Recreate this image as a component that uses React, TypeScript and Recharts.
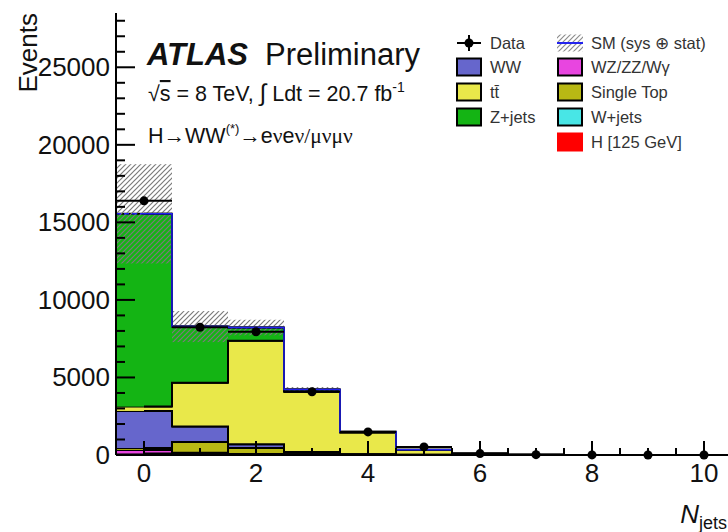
import { ComposedChart, Bar, Line, Scatter, ErrorBar, XAxis, YAxis } from 'recharts'

// Jet multiplicity bins
const NJETS = [0, 1, 2, 3, 4, 5, 6, 7, 8, 9, 10]

// Expected events per bin for each background / signal process
const H125 = [60, 30, 15, 6, 2, 1, 0, 0, 0, 0, 0]
const WJETS = [40, 20, 10, 4, 1, 0, 0, 0, 0, 0, 0]
const WZ_ZZ_WG = [230, 90, 40, 20, 8, 3, 1, 0, 0, 0, 0]
const SINGLE_TOP = [120, 700, 380, 110, 30, 8, 2, 0, 0, 0, 0]
const WW = [2390, 990, 245, 60, 15, 4, 1, 0, 0, 0, 0]
const TTBAR = [280, 2830, 6680, 3880, 1400, 300, 70, 15, 4, 1, 0]
const ZJETS = [12430, 3620, 850, 150, 40, 15, 3, 0, 0, 0, 0]

// Total SM uncertainty (sys + stat)
const SM_UNC = [3200, 1000, 500, 150, 50, 20, 5, 1, 0, 0, 0]

// Observed events
const DATA = [16390, 8240, 7950, 4080, 1490, 520, 90, 20, 5, 2, 1]

const X_LABELS = [0, 2, 4, 6, 8, 10]
const X_TICKS = [0, 0.5, 1, 1.5, 2, 2.5, 3, 3.5, 4, 4.5, 5, 5.5, 6, 6.5, 7, 7.5, 8, 8.5, 9, 9.5, 10]
const Y_LABELS = [0, 5000, 10000, 15000, 20000, 25000]
const Y_TICKS = [
  0, 1000, 2000, 3000, 4000, 5000, 6000, 7000, 8000, 9000, 10000, 11000, 12000, 13000, 14000,
  15000, 16000, 17000, 18000, 19000, 20000, 21000, 22000, 23000, 24000, 25000, 26000, 27000, 28000,
]

// bottom of the stack first
const STACK = [
  { key: 'h125', colour: '#ff0000', values: H125 },
  { key: 'wjets', colour: '#48e6e6', values: WJETS },
  { key: 'wzzz', colour: '#e845e0', values: WZ_ZZ_WG },
  { key: 'stop', colour: '#b8b814', values: SINGLE_TOP },
  { key: 'ww', colour: '#6666cc', values: WW },
  { key: 'ttbar', colour: '#e9e84a', values: TTBAR },
  { key: 'zjets', colour: '#14b414', values: ZJETS },
]

const rows = NJETS.map((nj, i) => {
  const row: Record<string, any> = { nj, data: DATA[i], xerr: 0.5 }
  let cum = 0
  for (const s of STACK) {
    row[s.key] = s.values[i]
    cum += s.values[i]
    row[`top_${s.key}`] = cum
  }
  row.total = cum
  row.band = [cum - SM_UNC[i], cum + SM_UNC[i]]
  return row
})

const FONT = '"Liberation Sans", Arial, sans-serif'
const INK = '#111'
const SM_BLUE = '#2222ee'

// filled bin with a black line along its top edge
function StackShape(props: any) {
  const { x, y, width, height, fill } = props
  if (!height || height < 0) return null
  return (
    <g>
      <rect x={x} y={y} width={width} height={height} fill={fill} />
      <line x1={x} x2={x + width} y1={y} y2={y} stroke="#000" strokeWidth={2} />
    </g>
  )
}

// hatched uncertainty band with the SM total through its middle
function BandShape(props: any) {
  const { x, y, width, height } = props
  if (height == null) return null
  return (
    <g>
      <rect x={x} y={y} width={width} height={Math.max(height, 0)} fill="url(#smHatch)" />
      <line x1={x} x2={x + width} y1={y + height / 2} y2={y + height / 2} stroke={SM_BLUE} strokeWidth={1.5} strokeDasharray="5 3" />
    </g>
  )
}

function DataDot(props: any) {
  const { cx, cy } = props
  return <circle cx={cx} cy={cy} r={4.5} fill="#000" />
}

function BottomTick({ x, y, payload }: any) {
  const v = payload.value
  const major = X_LABELS.includes(v)
  return (
    <g>
      <line x1={x} x2={x} y1={y} y2={y - (major ? 14 : 7)} stroke="#000" strokeWidth={2} />
      {major && (
        <text x={x} y={y + 27} textAnchor="middle" fontFamily={FONT} fontSize={26} fill={INK}>
          {v}
        </text>
      )}
    </g>
  )
}

function TopTick({ x, y, payload }: any) {
  const major = X_LABELS.includes(payload.value)
  return <line x1={x} x2={x} y1={y} y2={y + (major ? 15 : 9)} stroke="#000" strokeWidth={2} />
}

function LeftTick({ x, y, payload }: any) {
  const v = payload.value
  const major = Y_LABELS.includes(v)
  return (
    <g>
      <line x1={x} x2={x + (major ? 19 : 9)} y1={y} y2={y} stroke="#000" strokeWidth={2} />
      {major && (
        <text x={x - 6} y={y + 9} textAnchor="end" fontFamily={FONT} fontSize={26} fill={INK}>
          {v}
        </text>
      )}
    </g>
  )
}

function RightTick({ x, y, payload }: any) {
  const major = Y_LABELS.includes(payload.value)
  return <line x1={x} x2={x - (major ? 20 : 10)} y1={y} y2={y} stroke="#000" strokeWidth={2} />
}

const LEGEND_LEFT = [
  { label: 'WW', colour: '#6666cc' },
  { label: 'tt\u0304', colour: '#e9e84a' },
  { label: 'Z+jets', colour: '#14b414' },
]
const LEGEND_RIGHT = [
  { label: 'WZ/ZZ/W\u03b3', colour: '#e845e0' },
  { label: 'Single Top', colour: '#b8b814' },
  { label: 'W+jets', colour: '#48e6e6' },
]

function Annotations() {
  const rowY = [43, 67, 92, 117, 142]
  const legendText = { fontFamily: FONT, fontSize: 16.5, fill: '#333' }
  return (
    <svg width={728} height={532} style={{ position: 'absolute', left: 0, top: 0, pointerEvents: 'none' }}>
      <defs>
        <pattern id="legHatch" width="5" height="5" patternUnits="userSpaceOnUse">
          <path d="M-1,1 l2,-2 M0,5 l5,-5 M4,6 l2,-2" stroke="#8c8c8c" strokeWidth={1.2} />
        </pattern>
      </defs>

      <text transform="translate(37,13) rotate(-90)" textAnchor="end" fontFamily={FONT} fontSize={26} fill={INK}>
        Events
      </text>
      <text x={727} y={523} textAnchor="end" fontFamily={FONT} fill={INK}>
        <tspan fontSize={26} fontStyle="italic">N</tspan>
        <tspan fontSize={18} dy={6}>jets</tspan>
      </text>

      <text x={147} y={65} fontFamily={FONT} fontSize={31} fill={INK}>
        <tspan fontWeight="bold" fontStyle="italic">ATLAS</tspan>
        <tspan dx={17}>Preliminary</tspan>
      </text>
      <text x={148} y={101} fontFamily={FONT} fontSize={21.5} fill={INK}>
        <tspan>√</tspan>
        <tspan textDecoration="overline">s</tspan>
        <tspan> = 8 TeV, </tspan>
        <tspan fontSize={24}>∫</tspan>
        <tspan> Ldt = 20.7 fb</tspan>
        <tspan fontSize={14} dy={-9}>-1</tspan>
      </text>
      <text x={148} y={143} fontFamily={FONT} fontSize={21.5} fill={INK}>
        <tspan>H→WW</tspan>
        <tspan fontSize={13} dy={-10}>(*)</tspan>
        <tspan dy={10}>→e</tspan>
        <tspan fontFamily='"Liberation Serif", serif'>ν</tspan>
        <tspan>e</tspan>
        <tspan fontFamily='"Liberation Serif", serif'>ν/μνμν</tspan>
      </text>

      {/* data marker */}
      <line x1={457} x2={481} y1={rowY[0]} y2={rowY[0]} stroke="#000" strokeWidth={2} />
      <line x1={469} x2={469} y1={rowY[0] - 8} y2={rowY[0] + 8} stroke="#000" strokeWidth={2} />
      <circle cx={469} cy={rowY[0]} r={4.5} fill="#000" />
      <text x={490} y={rowY[0] + 6} {...legendText}>Data</text>

      {LEGEND_LEFT.map((e, i) => (
        <g key={e.label}>
          <rect x={457} y={rowY[i + 1] - 8.5} width={24} height={17} fill={e.colour} stroke="#000" strokeWidth={2} />
          <text x={490} y={rowY[i + 1] + 6} {...legendText}>{e.label}</text>
        </g>
      ))}

      {/* SM total with uncertainty */}
      <rect x={557} y={rowY[0] - 8.5} width={26} height={17} fill="url(#legHatch)" />
      <line x1={557} x2={583} y1={rowY[0]} y2={rowY[0]} stroke={SM_BLUE} strokeWidth={2} />
      <text x={591} y={rowY[0] + 6} {...legendText}>SM (sys ⊕ stat)</text>

      {LEGEND_RIGHT.map((e, i) => (
        <g key={e.label}>
          <rect x={558} y={rowY[i + 1] - 8.5} width={24} height={17} fill={e.colour} stroke="#000" strokeWidth={2} />
          <text x={591} y={rowY[i + 1] + 6} {...legendText}>{e.label}</text>
        </g>
      ))}
      <rect x={557} y={rowY[4] - 9.5} width={26} height={19} fill="#ff0000" />
      <text x={591} y={rowY[4] + 6} {...legendText}>H [125 GeV]</text>
    </svg>
  )
}

export default function App() {
  return (
    <div style={{ position: 'fixed', left: 0, top: 0, width: 728, height: 532, overflow: 'hidden', background: '#fff' }}>
      <ComposedChart
        width={760}
        height={532}
        data={rows}
        margin={{ top: 13, right: 0, bottom: 0, left: 0 }}
        barCategoryGap={0}
        barGap={0}
      >
        <defs>
          <pattern id="smHatch" width="5" height="5" patternUnits="userSpaceOnUse">
            <path d="M-1,1 l2,-2 M0,5 l5,-5 M4,6 l2,-2" stroke="#7a7a7a" strokeWidth={1.2} />
          </pattern>
        </defs>

        {STACK.map((s) => (
          <Bar
            key={s.key}
            xAxisId="x"
            yAxisId="y"
            dataKey={s.key}
            stackId="sm"
            fill={s.colour}
            shape={<StackShape />}
            isAnimationActive={false}
          />
        ))}
        {STACK.map((s) => (
          <Line
            key={`top_${s.key}`}
            xAxisId="x"
            yAxisId="y"
            dataKey={`top_${s.key}`}
            type="step"
            stroke="#000"
            strokeWidth={2}
            dot={false}
            activeDot={false}
            isAnimationActive={false}
          />
        ))}
        <Bar xAxisId="top" yAxisId="y" dataKey="band" shape={<BandShape />} isAnimationActive={false} />
        <Line
          xAxisId="x"
          yAxisId="y"
          dataKey="total"
          type="step"
          stroke={SM_BLUE}
          strokeWidth={1.5}
          dot={false}
          activeDot={false}
          isAnimationActive={false}
        />

        <XAxis
          xAxisId="x"
          dataKey="nj"
          type="number"
          domain={[-0.5, 10.5]}
          ticks={X_TICKS}
          interval={0}
          height={77}
          tickSize={0}
          tickMargin={0}
          tickLine={false}
          tick={<BottomTick />}
          axisLine={{ stroke: '#000', strokeWidth: 2 }}
        />
        <XAxis
          xAxisId="top"
          dataKey="nj"
          type="number"
          orientation="top"
          domain={[-0.5, 10.5]}
          ticks={X_TICKS}
          interval={0}
          height={0}
          tickSize={0}
          tickMargin={0}
          tickLine={false}
          tick={<TopTick />}
          axisLine={{ stroke: '#000', strokeWidth: 2 }}
        />
        <YAxis
          yAxisId="y"
          domain={[0, 28500]}
          ticks={Y_TICKS}
          interval={0}
          width={116}
          tickSize={0}
          tickMargin={0}
          tickLine={false}
          tick={<LeftTick />}
          axisLine={{ stroke: '#000', strokeWidth: 2 }}
        />
        <YAxis
          yAxisId="right"
          orientation="right"
          domain={[0, 28500]}
          ticks={Y_TICKS}
          interval={0}
          width={28}
          tickSize={0}
          tickMargin={0}
          tickLine={false}
          tick={<RightTick />}
          axisLine={{ stroke: '#000', strokeWidth: 2 }}
        />

        {/* observed events, drawn over the axis frame */}
        <Scatter xAxisId="x" yAxisId="y" dataKey="data" shape={<DataDot />} isAnimationActive={false}>
          <ErrorBar dataKey="xerr" direction="x" width={0} stroke="#000" strokeWidth={2} />
        </Scatter>
      </ComposedChart>
      <Annotations />
    </div>
  )
}
